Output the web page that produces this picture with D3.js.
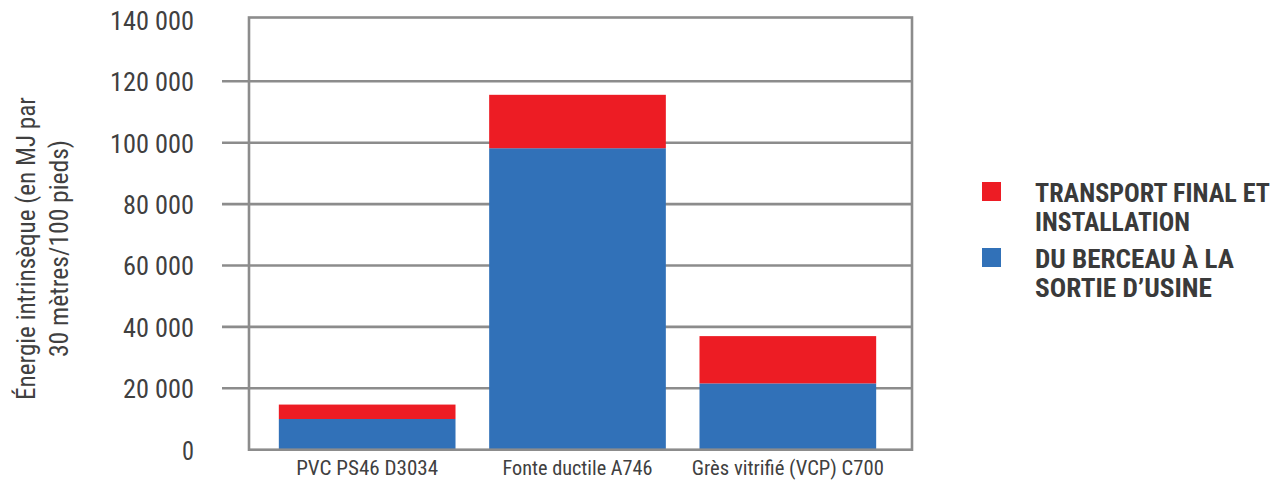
<!DOCTYPE html>
<html>
<head>
<meta charset="utf-8">
<script src="https://cdn.jsdelivr.net/npm/d3@7"></script>
<style>
  html, body { margin: 0; padding: 0; background: #ffffff; }
  svg { display: block; }
  .narrow { font-family: "Liberation Sans Narrow", "Roboto Condensed", "Arial Narrow", "Liberation Sans", sans-serif; }
</style>
</head>
<body>
<svg id="chart" width="1282" height="480"></svg>
<script>
// Pipe materials compared
const categories = ["PVC PS46 D3034", "Fonte ductile A746", "Grès vitrifié (VCP) C700"];
// Cradle-to-gate energy (MJ per 30 m / 100 ft)
const cradleToGate = [10000, 98200, 21600];
// Final transport and installation energy
const transportInstall = [4700, 17400, 15400];
// Series names, bottom to top of each stack
const seriesKeys = ["cradle", "transport"];
const seriesLabels = {
  transport: ["TRANSPORT FINAL ET", "INSTALLATION"],
  cradle: ["DU BERCEAU À LA", "SORTIE D’USINE"]
};
const seriesColors = { cradle: "#3171b8", transport: "#ed1c24" };
// Value axis ticks
const yTicks = [0, 20000, 40000, 60000, 80000, 100000, 120000, 140000];
const yTitle = ["Énergie intrinsèque (en MJ par", "30 mètres/100 pieds)"];

const svg = d3.select("#chart");
const gridColor = "#8c8c8c";
const textColor = "#404040";

const box = { left: 249, right: 912, top: 17.5, bottom: 449.7 };

const y = d3.scaleLinear().domain([0, 140000]).range([449.7, 19.9]);
const x = d3.scaleBand().domain(categories).range([262, 893]).paddingInner(0.16).paddingOuter(0.08);

const rows = categories.map((c, i) => ({ cat: c, cradle: cradleToGate[i], transport: transportInstall[i] }));
const stacked = d3.stack().keys(seriesKeys)(rows);

const fmt = v => d3.format(",")(v).replace(/,/g, " ");

// Gridlines, with short tick stubs to the left of the frame
const grid = svg.append("g");
grid.selectAll("line")
  .data(yTicks.filter(t => t > 0 && t < 140000))
  .join("line")
  .attr("x1", 222).attr("x2", box.right)
  .attr("y1", d => y(d)).attr("y2", d => y(d))
  .attr("stroke", gridColor).attr("stroke-width", 2.6);

// Stacked bars
svg.append("g").selectAll("g")
  .data(stacked)
  .join("g")
  .attr("fill", d => seriesColors[d.key])
  .selectAll("rect")
  .data(d => d)
  .join("rect")
  .attr("x", d => x(d.data.cat))
  .attr("width", x.bandwidth())
  .attr("y", d => y(d[1]))
  .attr("height", d => y(d[0]) - y(d[1]));

// Plot frame
svg.append("rect")
  .attr("x", box.left).attr("y", box.top)
  .attr("width", box.right - box.left).attr("height", box.bottom - box.top)
  .attr("fill", "none").attr("stroke", gridColor).attr("stroke-width", 2.6);

// Y tick labels
const yAxis = d3.axisLeft(y).tickValues(yTicks).tickFormat(fmt).tickSize(0).tickPadding(0);
const yg = svg.append("g").attr("transform", "translate(194,0)").call(yAxis);
yg.select(".domain").remove();
yg.selectAll("text")
  .attr("class", "narrow")
  .attr("font-size", 26)
  .attr("fill", textColor)
  .attr("dy", "0.36em")
  .attr("textLength", d => d === 0 ? 12 : (fmt(d).length === 7 ? 84 : 71))
  .attr("lengthAdjust", "spacingAndGlyphs");

// Category labels
const xAxis = d3.axisBottom(x).tickSize(0).tickPadding(0);
const xg = svg.append("g").attr("transform", "translate(0,475)").call(xAxis);
xg.select(".domain").remove();
const catWidths = { "PVC PS46 D3034": 142, "Fonte ductile A746": 150, "Grès vitrifié (VCP) C700": 192 };
xg.selectAll("text")
  .attr("class", "narrow")
  .attr("font-size", 20)
  .attr("fill", textColor)
  .attr("dy", 0)
  .attr("y", 0)
  .attr("textLength", d => catWidths[d])
  .attr("lengthAdjust", "spacingAndGlyphs");

// Y axis title, two rotated lines
const titleWidths = [303, 217];
svg.append("g")
  .attr("transform", "translate(0,248.5) rotate(-90)")
  .selectAll("text")
  .data(yTitle)
  .join("text")
  .attr("class", "narrow")
  .attr("text-anchor", "middle")
  .attr("x", 0)
  .attr("y", (d, i) => 35 + i * 33)
  .attr("font-size", 26)
  .attr("fill", textColor)
  .attr("textLength", (d, i) => titleWidths[i])
  .attr("lengthAdjust", "spacingAndGlyphs")
  .text(d => d);

// Legend, top entry is the upper series
const legendOrder = ["transport", "cradle"];
const legendTop = { transport: 182, cradle: 248 };
const legendWidths = { transport: [235, 155], cradle: [199, 177] };
const lg = svg.append("g");
legendOrder.forEach(k => {
  lg.append("rect")
    .attr("x", 982).attr("y", legendTop[k])
    .attr("width", 19).attr("height", 19)
    .attr("fill", seriesColors[k]);
  seriesLabels[k].forEach((line, i) => {
    lg.append("text")
      .attr("class", "narrow")
      .attr("x", 1035)
      .attr("y", legendTop[k] + 19.5 + i * 29)
      .attr("font-size", 26)
      .attr("font-weight", "bold")
      .attr("fill", "#3a3a3a")
      .attr("textLength", legendWidths[k][i])
      .attr("lengthAdjust", "spacingAndGlyphs")
      .text(line);
  });
});
</script>
</body>
</html>
